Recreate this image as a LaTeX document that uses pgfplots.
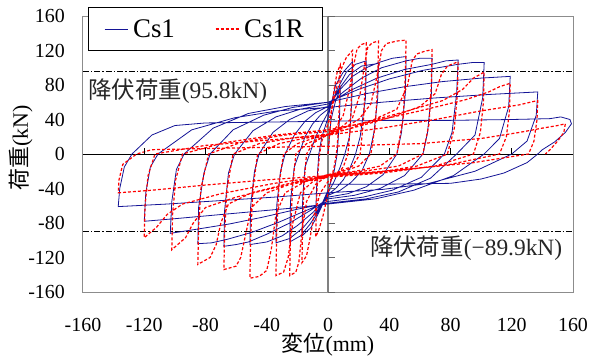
\documentclass[border=0pt]{standalone}
\usepackage{fontspec}
\setmainfont{Liberation Serif}
\newfontfamily\jp{Noto Sans CJK JP}
\usepackage{pgfplots}
\pgfplotsset{compat=1.18}
\definecolor{cblue}{RGB}{20,20,150}
\begin{document}
\begin{tikzpicture}
\useasboundingbox (-83bp,-71bp) rectangle (508bp,292bp);
\begin{axis}[
 width=490bp, height=276bp, scale only axis,
 xmin=-160,xmax=160,ymin=-160,ymax=160,
 xtick={-160,-120,...,160}, ytick={-160,-120,...,160},
 major tick length=0pt,
 axis line style={black!45, line width=1bp},
 tick label style={font=\fontsize{20}{20}\selectfont, inner sep=0pt},
 /pgf/number format/assume math mode=true,
 xticklabel style={anchor=center, yshift=-33bp},
 yticklabel style={anchor=east, xshift=-18bp},
 legend columns=2,
 legend style={at={(axis description cs:0.01,1.033)}, anchor=north west, draw=black, line width=0.8bp,
   font=\fontsize{27}{27}\selectfont, inner xsep=16bp, inner ysep=10bp,
   /tikz/every odd column/.append style={column sep=3bp},
   /tikz/every even column/.append style={column sep=38bp}},
 legend image code/.code={\draw[#1] (0bp,0bp) -- (23bp,0bp);},
]
\draw[black, line width=0.8bp] (axis cs:-160,0) -- (axis cs:160,0);
\draw[black!50, line width=1.3bp] (axis cs:0,-160) -- (axis cs:0,160);
\addplot[forget plot, black, line width=0.8bp, dash pattern=on 6bp off 2bp on 1.5bp off 2bp] coordinates {(-160,95.8) (160,95.8)};
\addplot[forget plot, black, line width=0.8bp, dash pattern=on 6bp off 2bp on 1.5bp off 2bp] coordinates {(-160,-89.9) (160,-89.9)};
\addplot[cblue, line width=0.8bp] coordinates {
(0,0)(2,40)(5,62)(8,75)(7.5,40)(6,0)(4,-20)(0,-42)(-4,-58)(-8,-70)(-7.5,-40)(-6,0)(-4,20)(0,42)(5,80)(10,95)(16,107)
(15.5,60)(14,20)(11,0)(8,-15)(4,-32)(0,-45)(-6,-68)(-11,-85)(-17,-95)
(-16.5,-50)(-15,-15)(-12,0)(-8,20)(-4,35)(0,48)(6,75)(12,95)(18,104)(25,108)
(24.5,65)(21,20)(18,0)(14,-18)(10,-30)(5,-40)(0,-47)(-6,-66)(-12,-82)(-18,-95)(-25,-102)
(-24.5,-55)(-22,-15)(-19,0)(-15,20)(-10,35)(-5,45)(0,52)(7,75)(14,92)(22,102)(33,105)
(32.5,65)(30,25)(27,0)(22,-20)(15,-33)(8,-42)(0,-48)(-8,-68)(-16,-85)(-25,-98)(-34,-103)
(-33.5,-60)(-31,-20)(-28,0)(-22,22)(-15,38)(-8,48)(0,55)(8,75)(16,90)(25,100)(33,106)(42,111)(51,113)
(50.5,70)(48,25)(45,0)(36,-24)(25,-38)(13,-46)(0,-50)(-10,-68)(-20,-83)(-30,-95)(-40,-102)(-51,-105)
(-50.5,-60)(-48,-20)(-45,0)(-36,25)(-25,40)(-13,50)(0,55)(10,72)(22,88)(35,100)(51,108)(60,111)(68,111)
(67.5,70)(65,25)(62,0)(50,-25)(34,-40)(17,-48)(0,-52)(-12,-66)(-25,-80)(-40,-93)(-52,-102)(-60,-105)(-68,-107)
(-67.5,-65)(-65,-22)(-61,0)(-49,27)(-34,43)(-18,52)(0,58)(15,74)(32,88)(50,98)(68,104)(77,108)(85,109)
(84,70)(81,25)(76,0)(61,-27)(42,-42)(23,-50)(0,-55)(-15,-66)(-32,-79)(-50,-91)(-66,-99)(-76,-103)(-85,-104)
(-84.5,-62)(-81,-22)(-77,0)(-62,28)(-42,45)(-23,54)(0,60)(20,75)(40,87)(62,97)(85,104)(94,106)(102,106)
(101,65)(96,22)(84,0)(67,-28)(46,-44)(25,-52)(0,-57)(-20,-64)(-42,-73)(-64,-81)(-85,-87)(-103,-92)
(-102,-55)(-99,-18)(-94,0)(-75,30)(-52,47)(-28,55)(0,60)(25,70)(50,78)(75,84)(100,88)(119,90)
(118,55)(112,18)(102,0)(82,-25)(56,-42)(31,-52)(0,-58)(-25,-63)(-50,-67)(-75,-71)(-100,-75)(-120,-78)
(-119,-45)(-116,-15)(-111,0)(-89,28)(-61,42)(-33,50)(0,54)(35,60)(70,65)(105,69)(137,72)
(136,45)(130,15)(120,0)(96,-20)(66,-34)(36,-41)(0,-45)(-35,-50)(-70,-54)(-105,-58)(-137,-61)
(-136,-40)(-133,-15)(-128,0)(-115,22)(-100,33)(-80,36)(-40,37)(0,38)(40,39)(80,39)(120,40)(145,41)(152,43)(158,40)(159,35)(155,25)(148,14)(140,5)(137,0)(130,-10)(115,-22)(100,-29)(80,-34)(40,-35)(0,-35)
};
\addlegendentry{Cs1}
\addplot[red, line width=1.2bp, dash pattern=on 3bp off 2bp] coordinates {
(0,0)(2,45)(4,75)(6,95)(8,103)
(7.5,60)(6.5,20)(5.5,0)(4,-15)(2,-30)(0,-45)(-3,-70)(-6,-88)(-8,-96)
(-7.5,-55)(-6.5,-20)(-5.5,0)(-4,15)(-2,25)(0,35)(3,55)(6,80)(9,100)(12,112)(16,120)
(15.5,75)(14.5,30)(13,0)(10,-15)(5,-25)(0,-32)(-5,-45)(-9,-70)(-12,-100)(-14,-118)(-17,-126)
(-16.5,-75)(-15.5,-30)(-14,0)(-10,12)(-5,18)(0,22)(5,30)(10,45)(14,75)(17,105)(19,122)(22,127)(25,129)
(24.5,85)(23,35)(21,0)(16,-14)(8,-20)(0,-25)(-8,-35)(-14,-55)(-17,-90)(-19,-125)(-21,-137)(-25,-141)
(-24.5,-90)(-23,-35)(-21,0)(-14,12)(-7,17)(0,22)(8,30)(16,42)(21,70)(24,105)(26,124)(29,129)(33,131)
(32.5,85)(31,35)(28,0)(20,-14)(10,-20)(0,-24)(-10,-32)(-18,-45)(-23,-80)(-26,-120)(-29,-137)(-34,-141)
(-33.5,-90)(-32,-35)(-29,0)(-20,12)(-10,18)(0,22)(10,30)(20,40)(28,58)(32,90)(35,120)(38,128)(45,131)(51,132)
(50.5,90)(49,40)(45,0)(34,-14)(18,-20)(0,-24)(-15,-32)(-28,-45)(-34,-70)(-37,-110)(-40,-135)(-45,-142)(-51,-144)
(-50.5,-95)(-49,-40)(-46,0)(-32,12)(-16,18)(0,22)(15,30)(30,40)(45,52)(52,80)(55,108)(58,116)(63,119)(68,121)
(67.5,80)(66,35)(62,0)(46,-14)(23,-20)(0,-24)(-20,-32)(-40,-45)(-50,-62)(-54,-95)(-57,-120)(-60,-130)(-68,-134)
(-67.5,-90)(-66,-40)(-62,0)(-45,12)(-22,19)(0,23)(20,32)(40,42)(60,55)(70,70)(74,92)(78,102)(85,107)
(84.5,70)(82.5,30)(78,0)(58,-14)(30,-22)(0,-26)(-25,-34)(-50,-45)(-65,-58)(-70,-80)(-73,-105)(-77,-120)(-85,-128)
(-84.5,-85)(-83,-40)(-78,0)(-56,14)(-28,22)(0,26)(25,37)(50,49)(75,62)(88,75)(95,88)(102,95)
(101.5,60)(99.5,25)(95,0)(70,-14)(36,-22)(0,-27)(-30,-37)(-60,-50)(-80,-62)(-88,-80)(-93,-97)(-102,-111)
(-101.5,-70)(-99.5,-30)(-95,0)(-68,13)(-34,22)(0,28)(30,38)(60,50)(90,63)(105,72)(112,78)(119,82)
(118.5,50)(116.5,20)(112,0)(80,-12)(40,-20)(0,-25)(-35,-34)(-70,-46)(-95,-58)(-105,-70)(-112,-85)(-120,-97)
(-119.5,-60)(-117.5,-25)(-113,0)(-80,10)(-40,16)(0,22)(35,30)(70,40)(100,50)(125,57)(132,60)(137,62)
(136.5,40)(134.5,15)(131,0)(95,-10)(50,-18)(0,-25)(-40,-30)(-80,-36)(-115,-42)(-137,-45)
(-136.5,-30)(-134,-12)(-125,0)(-115,5)(-60,7)(0,9)(60,12)(100,18)(125,25)(140,30)(150,33)(155,35)(154,25)(150,15)(145,5)(142,0)
};
\addlegendentry{Cs1R}
\node[anchor=west, inner sep=0pt, text=black!85, font=\fontsize{23.5}{23.5}\selectfont] at (axis cs:-156.7,73) {{\jp 降伏荷重}(95.8kN)};
\node[anchor=west, inner sep=0pt, text=black!85, font=\fontsize{23.5}{23.5}\selectfont] at (axis cs:27.4,-109) {{\jp 降伏荷重}(−89.9kN)};
\end{axis}
\draw[black, line width=0.6bp] (61.25bp,138bp) -- ++(0,6bp) (122.5bp,138bp) -- ++(0,6bp) (183.75bp,138bp) -- ++(0,6bp) (306.25bp,138bp) -- ++(0,6bp) (367.5bp,138bp) -- ++(0,6bp) (428.75bp,138bp) -- ++(0,6bp);
\draw[black!60, line width=0.8bp] (245bp,0bp) -- ++(7bp,0) (245bp,34.5bp) -- ++(7bp,0) (245bp,69bp) -- ++(7bp,0) (245bp,103.5bp) -- ++(7bp,0) (245bp,172.5bp) -- ++(7bp,0) (245bp,207bp) -- ++(7bp,0) (245bp,241.5bp) -- ++(7bp,0) (245bp,276bp) -- ++(7bp,0);
\node[font=\fontsize{22}{22}\selectfont, inner sep=0pt] at (245bp,-53bp) {{\jp 変位}(mm)};
\node[font=\fontsize{22}{22}\selectfont, inner sep=0pt, rotate=90] at (-62bp,144bp) {{\jp 荷重}(kN)};
\end{tikzpicture}
\end{document}
